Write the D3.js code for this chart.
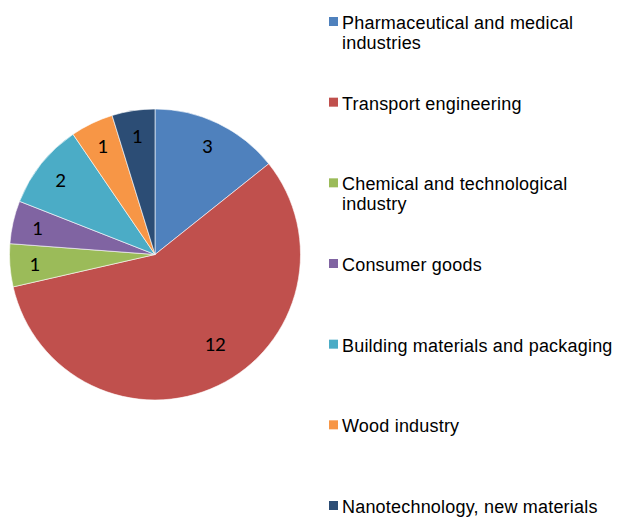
<!DOCTYPE html>
<html>
<head>
<meta charset="utf-8">
<script src="https://cdn.jsdelivr.net/npm/d3@7"></script>
<style>
  body { margin: 0; background: #fff; }
</style>
</head>
<body>
<div id="container"></div>
<script>
/* chart data */
const categories = ["Pharmaceutical and medical industries", "Transport engineering",
  "Chemical and technological industry", "Consumer goods",
  "Building materials and packaging", "Wood industry", "Nanotechnology, new materials"];
const values = [3, 12, 1, 1, 2, 1, 1];
const colors = ["#4F81BD", "#C0504D", "#9BBB59", "#8064A2", "#4BACC6", "#F79646", "#2C4D75"];

const width = 618
const height = 519
const cx = 155
const cy = 254.5
const radius = 145.5

const svg = d3.select("#container")
              .append("svg")
              .attr("width", width)
              .attr("height", height);

const color = d3.scaleOrdinal().domain(categories).range(colors);

const pie = d3.pie().sort(null).value((d) => d.value);
const arcs = pie(categories.map((c, i) => ({name: c, value: values[i]})));

const arc = d3.arc().innerRadius(0).outerRadius(radius);
const labelArc = d3.arc().innerRadius(radius * 0.83).outerRadius(radius * 0.83);
const bigLabelArc = d3.arc().innerRadius(radius * 0.74).outerRadius(radius * 0.74);

const g = svg.append("g").attr("transform", "translate(" + cx + "," + cy + ")");

g.selectAll("path")
  .data(arcs)
  .enter()
  .append("path")
  .attr("d", arc)
  .attr("fill", (d) => color(d.data.name))
  .attr("stroke", "#fff")
  .attr("stroke-width", 0.6);

g.selectAll("text")
  .data(arcs)
  .enter()
  .append("text")
  .attr("transform", (d) => {
    // big slice: label pulled further in and rotated back a bit, like Excel does
    if ((d.endAngle - d.startAngle) > Math.PI) {
      const a = d.startAngle + (d.endAngle - d.startAngle) * 0.46;
      const c = bigLabelArc.centroid({startAngle: a, endAngle: a});
      return "translate(" + c + ")";
    }
    return "translate(" + labelArc.centroid(d) + ")";
  })
  .attr("text-anchor", "middle")
  .attr("dy", "0.36em")
  .attr("font-family", "Carlito, Lato, 'Open Sans', sans-serif")
  .attr("font-size", 21)
  .attr("fill", "#000")
  .text((d) => d.value);

/* legend */
const legendY = d3.scalePoint().domain(categories).range([29, 513]);
const maxTextWidth = 272;

const legend = svg.selectAll(".legend")
  .data(categories)
  .enter()
  .append("g")
  .attr("class", "legend")
  .attr("transform", (d) => "translate(329," + legendY(d) + ")");

legend.append("rect")
  .attr("x", 0)
  .attr("y", -12)
  .attr("width", 9)
  .attr("height", 9)
  .attr("fill", (d) => color(d));

legend.each(function(d) {
  const text = d3.select(this).append("text")
    .attr("x", 13)
    .attr("y", 0)
    .attr("font-family", "'Liberation Sans', Arial, sans-serif")
    .attr("font-size", 18)
    .attr("letter-spacing", 0.2)
    .attr("fill", "#000");
  const words = d.split(" ");
  let line = [];
  let tspan = text.append("tspan").attr("x", 13).attr("dy", 0);
  words.forEach((w) => {
    line.push(w);
    tspan.text(line.join(" "));
    if (tspan.node().getComputedTextLength() > maxTextWidth && line.length > 1) {
      line.pop();
      tspan.text(line.join(" "));
      line = [w];
      tspan = text.append("tspan").attr("x", 13).attr("dy", 20).text(w);
    }
  });
});
</script>
</body>
</html>
